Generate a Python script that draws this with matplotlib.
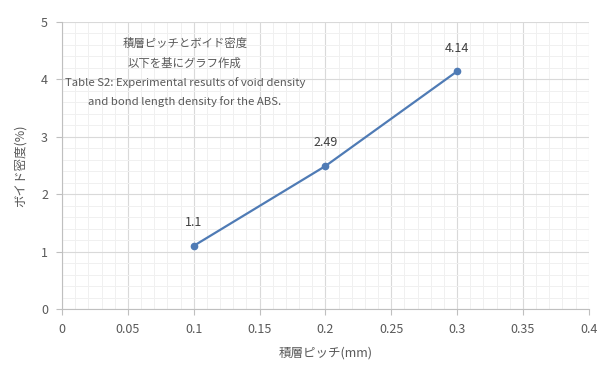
import matplotlib
import matplotlib.pyplot as plt
from matplotlib.ticker import MultipleLocator
matplotlib.use('Agg')

plt.rcParams['font.family'] = ['Noto Sans CJK JP', 'DejaVu Sans']

pitch = [0.1, 0.2, 0.3]
void_density = [1.1, 2.49, 4.14]
point_labels = ['1.1', '2.49', '4.14']
x_ticks = [0, 0.05, 0.1, 0.15, 0.2, 0.25, 0.3, 0.35, 0.4]
x_tick_labels = ['0', '0.05', '0.1', '0.15', '0.2', '0.25', '0.3', '0.35', '0.4']
note_lines = ['積層ピッチとボイド密度',
              '以下を基にグラフ作成',
              'Table S2: Experimental results of void density',
              'and bond length density for the ABS.']

text_color = '#595959'
line_color = '#4f7bb5'

fig = plt.figure(figsize=(6.14, 3.78), dpi=100)
ax = fig.add_axes([0.101, 0.1825, 0.858, 0.7595])

ax.plot(pitch, void_density, color=line_color, linewidth=1.6,
        marker='o', markersize=4.5, zorder=3)

# データラベル
for x, y, lab in zip(pitch, void_density, point_labels):
    ax.annotate(lab, (x, y), xytext=(0, 12), textcoords='offset points',
                ha='center', va='bottom', fontsize=9, color='#404040')

ax.set_xlim(0, 0.4)
ax.set_ylim(0, 5)
ax.set_xticks(x_ticks)
ax.set_xticklabels(x_tick_labels)
ax.xaxis.set_minor_locator(MultipleLocator(0.01))
ax.yaxis.set_major_locator(MultipleLocator(1))
ax.yaxis.set_minor_locator(MultipleLocator(0.2))

ax.grid(which='major', color='#d9d9d9', linewidth=0.8)
ax.grid(which='minor', color='#f0f0f0', linewidth=0.7)
ax.set_axisbelow(True)

for side in ['top', 'right']:
    ax.spines[side].set_visible(False)
for side in ['left', 'bottom']:
    ax.spines[side].set_color('#bfbfbf')

ax.tick_params(which='major', direction='out', length=4, color='#bfbfbf',
               labelsize=9, labelcolor=text_color, pad=6)
ax.tick_params(which='minor', length=0)

ax.set_xlabel('積層ピッチ(mm)', fontsize=9, color=text_color, labelpad=8)
ax.set_ylabel('ボイド密度(%)', fontsize=9, color=text_color, labelpad=10)

# 注記
fig.text(0.301, 0.90, '\n'.join(note_lines), ha='center', va='top',
         fontsize=8.2, color=text_color, linespacing=1.95)

plt.savefig('out.png', dpi=100)
plt.close()
